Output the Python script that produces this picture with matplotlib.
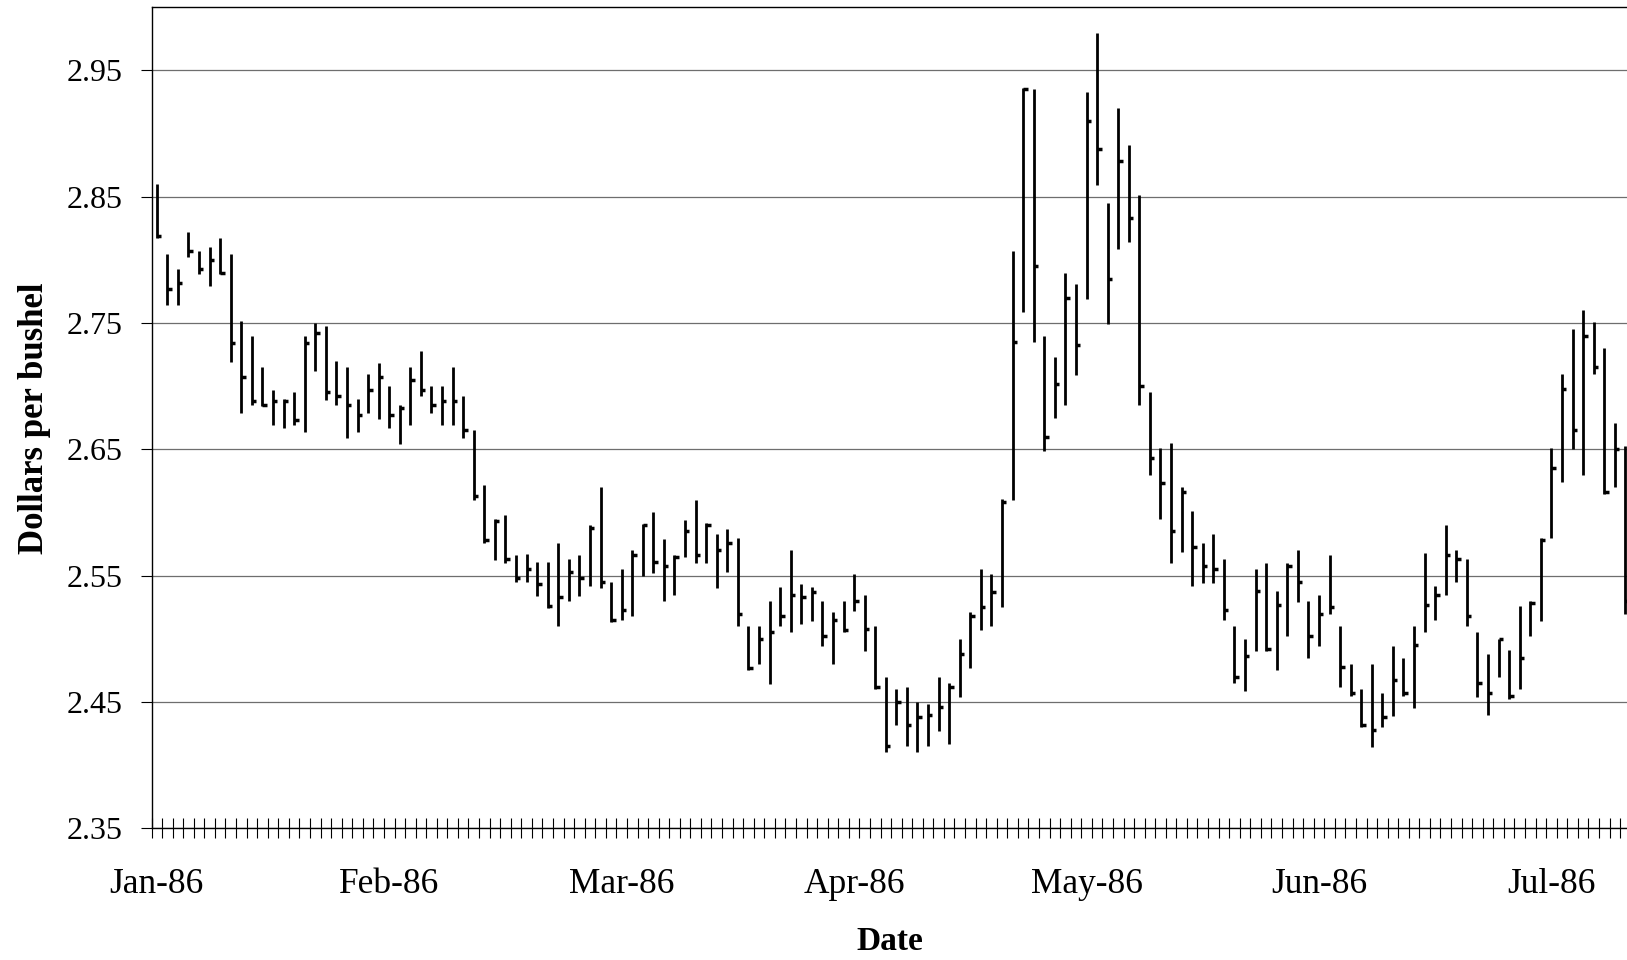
import numpy as np
import matplotlib
matplotlib.use("Agg")
import matplotlib.pyplot as plt

# daily high / low / close, dollars per bushel
high = [2.860, 2.805, 2.793, 2.822, 2.807, 2.810, 2.817, 2.805, 2.752, 2.740,
        2.715, 2.697, 2.690, 2.695, 2.740, 2.750, 2.748, 2.720, 2.715, 2.690,
        2.710, 2.718, 2.700, 2.685, 2.715, 2.728, 2.700, 2.700, 2.715, 2.692,
        2.665, 2.622, 2.595, 2.598, 2.566, 2.567, 2.561, 2.561, 2.576, 2.563,
        2.566, 2.590, 2.620, 2.545, 2.555, 2.570, 2.591, 2.600, 2.579, 2.566,
        2.594, 2.610, 2.592, 2.583, 2.587, 2.580, 2.510, 2.510, 2.530, 2.541,
        2.570, 2.543, 2.541, 2.530, 2.521, 2.530, 2.551, 2.535, 2.510, 2.470,
        2.460, 2.462, 2.450, 2.448, 2.470, 2.465, 2.500, 2.521, 2.555, 2.551,
        2.611, 2.807, 2.936, 2.935, 2.740, 2.723, 2.790, 2.781, 2.933, 2.980,
        2.845, 2.920, 2.891, 2.851, 2.695, 2.651, 2.655, 2.620, 2.601, 2.576,
        2.583, 2.563, 2.510, 2.500, 2.555, 2.560, 2.538, 2.560, 2.570, 2.530,
        2.535, 2.566, 2.510, 2.480, 2.460, 2.480, 2.457, 2.494, 2.485, 2.510,
        2.568, 2.542, 2.590, 2.570, 2.563, 2.505, 2.488, 2.500, 2.491, 2.526,
        2.530, 2.580, 2.651, 2.710, 2.745, 2.760, 2.751, 2.730, 2.671, 2.653]

low = [2.817, 2.764, 2.764, 2.802, 2.789, 2.779, 2.789, 2.719, 2.679, 2.685,
       2.684, 2.669, 2.667, 2.669, 2.664, 2.712, 2.689, 2.685, 2.659, 2.664,
       2.679, 2.674, 2.667, 2.654, 2.669, 2.692, 2.679, 2.669, 2.669, 2.659,
       2.610, 2.576, 2.562, 2.560, 2.545, 2.545, 2.534, 2.524, 2.510, 2.530,
       2.534, 2.542, 2.540, 2.513, 2.515, 2.518, 2.550, 2.552, 2.530, 2.535,
       2.565, 2.560, 2.560, 2.540, 2.553, 2.510, 2.475, 2.480, 2.464, 2.510,
       2.505, 2.512, 2.514, 2.494, 2.480, 2.505, 2.522, 2.490, 2.460, 2.410,
       2.432, 2.415, 2.410, 2.415, 2.427, 2.417, 2.454, 2.477, 2.507, 2.510,
       2.525, 2.610, 2.759, 2.735, 2.649, 2.675, 2.685, 2.709, 2.769, 2.859,
       2.749, 2.809, 2.814, 2.685, 2.630, 2.595, 2.560, 2.569, 2.542, 2.544,
       2.544, 2.515, 2.465, 2.459, 2.490, 2.490, 2.475, 2.502, 2.529, 2.485,
       2.494, 2.520, 2.462, 2.455, 2.430, 2.414, 2.430, 2.439, 2.455, 2.445,
       2.505, 2.515, 2.535, 2.545, 2.510, 2.454, 2.440, 2.470, 2.452, 2.460,
       2.502, 2.514, 2.580, 2.624, 2.650, 2.630, 2.710, 2.615, 2.620, 2.520]

close = [2.819, 2.777, 2.782, 2.807, 2.793, 2.800, 2.790, 2.734, 2.707, 2.688,
         2.685, 2.688, 2.688, 2.673, 2.734, 2.742, 2.695, 2.692, 2.685, 2.677,
         2.697, 2.707, 2.677, 2.683, 2.705, 2.697, 2.685, 2.688, 2.688, 2.665,
         2.613, 2.578, 2.593, 2.563, 2.548, 2.555, 2.543, 2.526, 2.533, 2.553,
         2.548, 2.588, 2.545, 2.515, 2.523, 2.566, 2.590, 2.561, 2.558, 2.565,
         2.585, 2.566, 2.590, 2.570, 2.576, 2.520, 2.477, 2.500, 2.505, 2.518,
         2.535, 2.533, 2.537, 2.502, 2.515, 2.507, 2.530, 2.508, 2.462, 2.415,
         2.450, 2.432, 2.438, 2.440, 2.446, 2.462, 2.488, 2.518, 2.525, 2.537,
         2.608, 2.735, 2.935, 2.795, 2.660, 2.702, 2.770, 2.733, 2.910, 2.888,
         2.785, 2.878, 2.833, 2.700, 2.643, 2.623, 2.585, 2.616, 2.573, 2.558,
         2.555, 2.523, 2.470, 2.486, 2.538, 2.492, 2.527, 2.558, 2.545, 2.502,
         2.520, 2.525, 2.478, 2.457, 2.432, 2.428, 2.438, 2.467, 2.457, 2.495,
         2.527, 2.535, 2.566, 2.563, 2.518, 2.465, 2.457, 2.500, 2.455, 2.485,
         2.528, 2.578, 2.635, 2.698, 2.665, 2.740, 2.715, 2.616, 2.650, 2.530]

month_labels = ["Jan-86", "Feb-86", "Mar-86", "Apr-86", "May-86", "Jun-86", "Jul-86"]
label_every = 22
y_ticks = [2.35, 2.45, 2.55, 2.65, 2.75, 2.85, 2.95]

plt.rcParams["font.family"] = ["Liberation Serif", "DejaVu Serif"]

W, H = 1627, 960
fig = plt.figure(figsize=(W / 100, H / 100), dpi=100)

# axes runs past the right edge of the figure, as in the original crop
ax = fig.add_axes([151.5 / W, 131.8 / H, 1489.7 / W, 820.9 / H])

x = np.arange(len(high))
ax.vlines(x, low, high, color="black", linewidth=2.0, zorder=3)
ax.hlines(close, x, x + 0.42, color="black", linewidth=2.5, zorder=3)

ax.set_xlim(-0.5, len(high) + 0.5)
ax.set_ylim(2.35, 3.0)

ax.set_yticks(y_ticks)
ax.set_yticklabels(["%.2f" % v for v in y_ticks])
ax.yaxis.grid(True, color="#6e6e6e", linewidth=0.9)
ax.set_axisbelow(True)
ax.tick_params(axis="y", direction="out", length=8, width=0.8,
               labelsize=23, pad=13)

ax.set_xticks(np.arange(0, label_every * len(month_labels), label_every))
ax.set_xticklabels(month_labels)
ax.set_xticks(np.arange(-0.5, len(high) + 0.5, 1.0), minor=True)
ax.tick_params(axis="x", which="major", length=0, labelsize=25.5, pad=29)
ax.tick_params(axis="x", which="minor", direction="inout", length=15, width=0.8)

for s in ["left", "top", "bottom"]:
    ax.spines[s].set_color("black")
    ax.spines[s].set_linewidth(1.0)

fig.text(890 / W, 1 - 941 / H, "Date", ha="center", va="center",
         fontsize=24, fontweight="bold")
fig.text(35 / W, 1 - 418 / H, "Dollars per bushel", ha="center", va="center",
         rotation=90, fontsize=25, fontweight="bold")

fig.savefig("out.png", dpi=100)
